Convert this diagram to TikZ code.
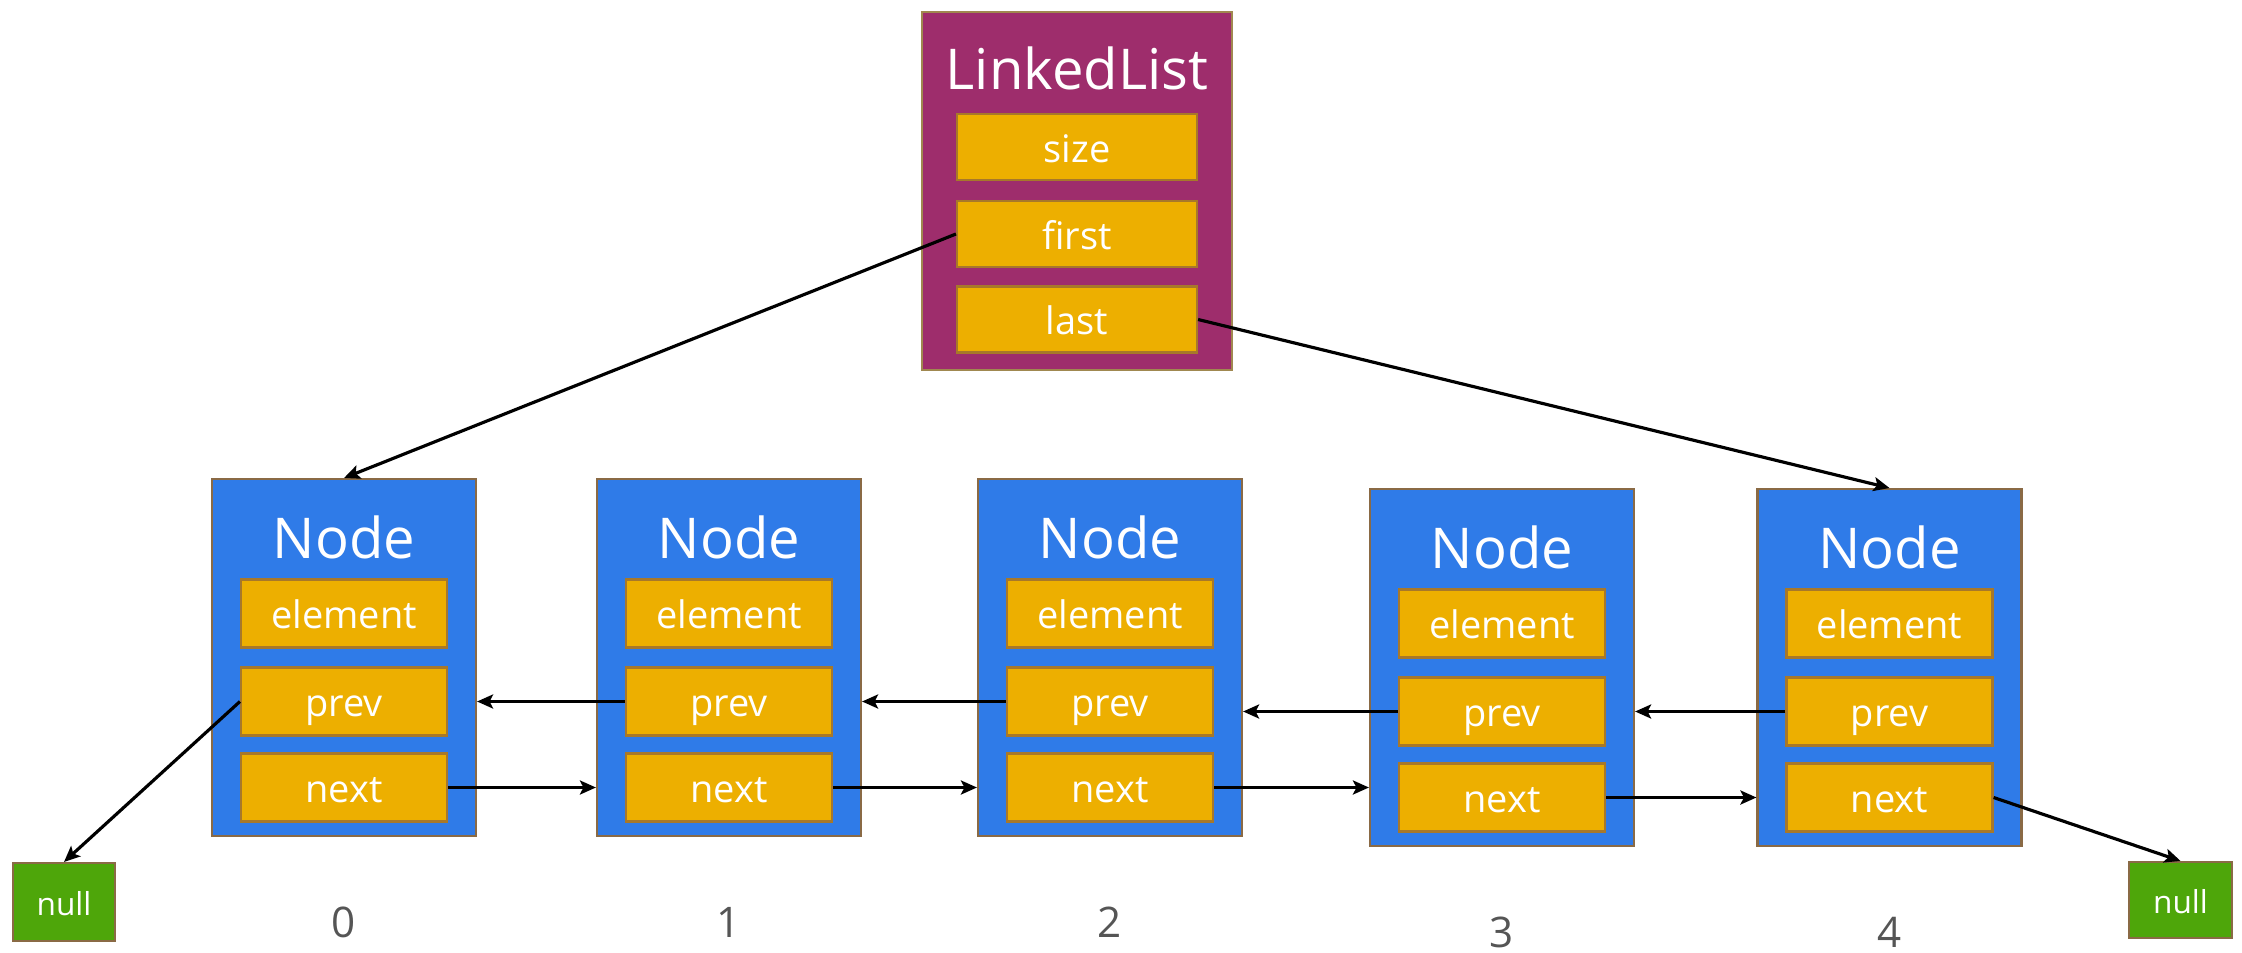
\documentclass[tikz,border=0pt]{standalone}
\usepackage{fontspec}
\setmainfont{Open Sans}
\usetikzlibrary{arrows.meta,calc}
\definecolor{llpurple}{HTML}{9E2D6C}
\definecolor{llborder}{HTML}{A08850}
\definecolor{fieldgold}{HTML}{EDAF00}
\definecolor{fieldborder}{HTML}{A7782A}
\definecolor{nodeblue}{HTML}{2F7BE8}
\definecolor{nodeborder}{HTML}{8A6A45}
\definecolor{nullgreen}{HTML}{4EA60A}
\definecolor{idxgray}{HTML}{555555}
\newcommand\llnode[4]{%
  \node[nodebox, anchor=north] (#1) at (#2,#3) {};
  \node[titletext] (#1t) at ([yshift=-8mm]#1.north) {Node};
  \node[field] (#1e) at ([yshift=-13.55mm]#1.north) {element};
  \node[field] (#1p) at ([yshift=-22.35mm]#1.north) {prev};
  \node[field] (#1n) at ([yshift=-30.95mm]#1.north) {next};
  \node[idx] (#1i) at ([yshift=-10mm]#1.south) {#4};
}
\begin{document}
\begin{tikzpicture}[x=0.1mm,y=-0.1mm,
  nodebox/.style={draw=nodeborder, fill=nodeblue, line width=0.6pt, minimum width=26.4mm, minimum height=35.7mm, inner sep=0pt},
  llbox/.style={draw=llborder, fill=llpurple, line width=0.6pt, minimum width=31mm, minimum height=35.8mm, inner sep=0pt},
  field/.style={draw=fieldborder, fill=fieldgold, line width=0.6pt, minimum width=20.6mm, minimum height=6.8mm, inner sep=0pt, text=white, font=\fontsize{10.8}{12}\selectfont, text height=8.6pt, text depth=0pt},
  lfield/.style={field, minimum width=24mm, minimum height=6.6mm},
  titletext/.style={text=white, font=\fontsize{16}{19}\selectfont, anchor=base, inner sep=0pt},
  nullbox/.style={draw=nodeborder, fill=nullgreen, line width=0.6pt, inner sep=0pt, text=white, font=\fontsize{9}{11}\selectfont, text height=7.4pt, text depth=0pt},
  idx/.style={text=idxgray, font=\fontsize{12}{14}\selectfont, anchor=base, inner sep=0pt},
  link/.style={line width=0.9pt, -{Stealth[length=1.6mm,width=1.4mm,inset=0.35mm]}}
]
\useasboundingbox (0,0) rectangle (2242,952);
\fill[white] (0,0) rectangle (2242,952);

% LinkedList
\node[llbox, anchor=north] (ll) at (1077,11) {};
\node[titletext] (llt) at ([yshift=-7.9mm]ll.north) {LinkedList};
\node[lfield] (size) at ([yshift=-13.6mm]ll.north) {size};
\node[lfield] (first) at ([yshift=-22.3mm]ll.north) {first};
\node[lfield] (last) at ([yshift=-30.85mm]ll.north) {last};

% Nodes
\llnode{n0}{344}{478}{0}
\llnode{n1}{729}{478}{1}
\llnode{n2}{1110}{478}{2}
\llnode{n3}{1502}{488}{3}
\llnode{n4}{1889.5}{488}{4}

% null boxes
\node[nullbox, minimum width=10.2mm, minimum height=7.8mm] (nullL) at (64,902) {null};
\node[nullbox, minimum width=10.3mm, minimum height=7.6mm] (nullR) at (2180.5,900) {null};

% connectors
\draw[link] (first.west) -- (n0.north);
\draw[link] (last.east) -- (n4.north);
\draw[link] (n0p.west) -- (nullL.north);
\draw[link] (n4n.east) -- (nullR.north);
\foreach \a/\b in {n0/n1,n1/n2,n2/n3,n3/n4}{
  \draw[link] (\a n.east) -- (\a n.east -| \b.west);
  \draw[link] (\b p.west) -- (\b p.west -| \a.east);
}
\end{tikzpicture}
\end{document}
